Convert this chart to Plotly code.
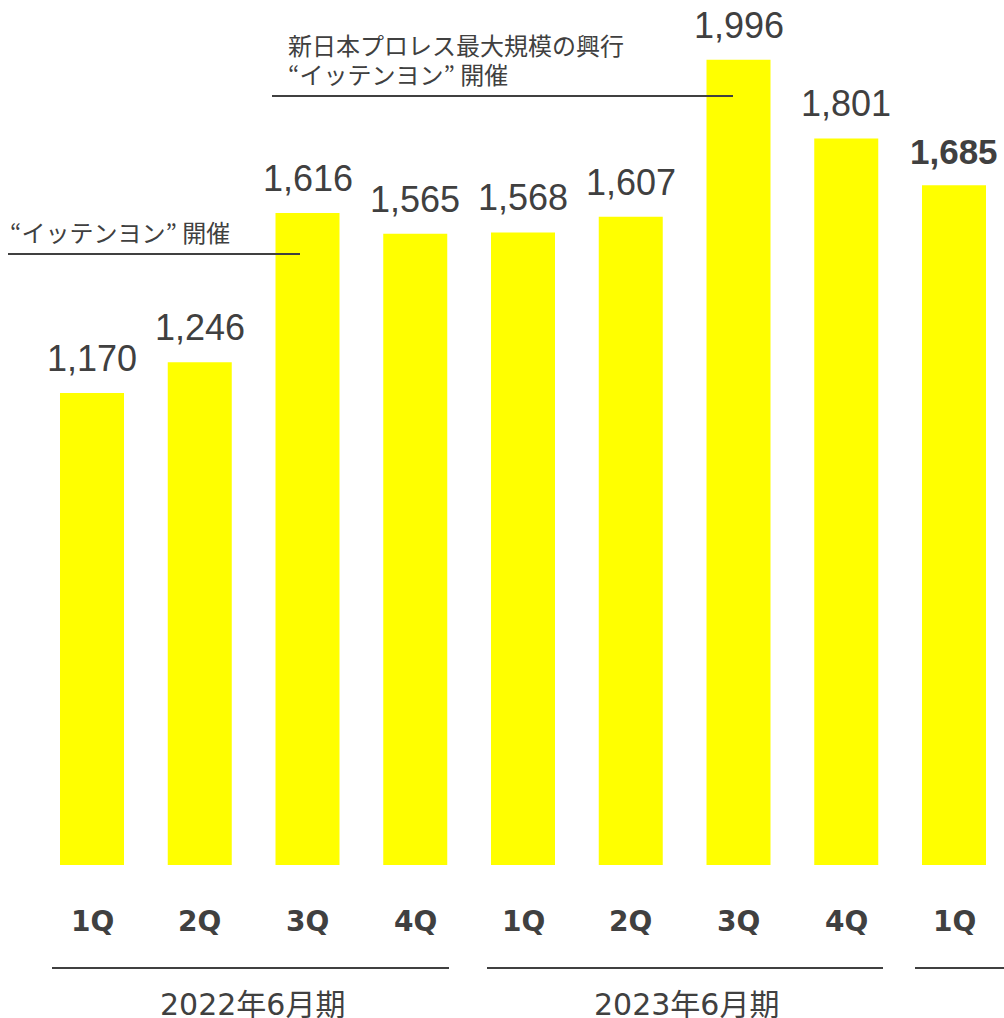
import plotly.graph_objects as go

W, H = 1004, 1018

quarters = ["1Q", "2Q", "3Q", "4Q", "1Q", "2Q", "3Q", "4Q", "1Q"]
values = [1170, 1246, 1616, 1565, 1568, 1607, 1996, 1801, 1685]
fiscal_years = ["2022年6月期", "2023年6月期"]
note_short = "“イッテンヨン” 開催"
note_long_1 = "新日本プロレス最大規模の興行"
note_long_2 = "“イッテンヨン” 開催"

TEXT = "#404040"
BAR = "#FFFF00"

x_idx = list(range(len(values)))

# pixel geometry helpers
x0_px, step_px = 92.0, 107.75
r0 = -x0_px / step_px
r1 = r0 + W / step_px
base_px, scale = 865.0, 0.4034
y_lo = -(H - base_px) / scale
y_hi = base_px / scale


def py(px):
    return 1 - px / H


def pxx(px):
    return px / W


fig = go.Figure()
fig.add_trace(go.Bar(
    x=x_idx, y=values, width=64 / step_px,
    marker=dict(color=BAR, line=dict(width=0)),
    hoverinfo="skip",
))

ann = []
for i, v in enumerate(values):
    last = i == len(values) - 1
    txt = f"{v:,}"
    ann.append(dict(
        x=i, y=v, xref="x", yref="y", text=f"<b>{txt}</b>" if last else txt,
        showarrow=False, yanchor="bottom", yshift=12,
        font=dict(family="Liberation Sans, Arial", size=36 if not last else 35, color=TEXT),
    ))
    ann.append(dict(
        x=i, y=py(921), xref="x", yref="paper", text=f"<b>{quarters[i]}</b>",
        showarrow=False, yanchor="middle",
        font=dict(family="DejaVu Sans", size=28, color=TEXT),
    ))

# fiscal year labels
fy_font = dict(family="DejaVu Sans, Noto Sans CJK JP", size=30, color=TEXT)
ann.append(dict(x=1.485, y=py(1004), xref="x", yref="paper", text=fiscal_years[0],
                showarrow=False, yanchor="middle", font=fy_font))
ann.append(dict(x=5.513, y=py(1004), xref="x", yref="paper", text=fiscal_years[1],
                showarrow=False, yanchor="middle", font=fy_font))

# notes
note_font = dict(family="Noto Sans CJK JP", size=24, color=TEXT)
ann.append(dict(x=pxx(8), y=py(231), xref="paper", yref="paper", text=note_short,
                showarrow=False, xanchor="left", yanchor="middle", font=note_font))
ann.append(dict(x=pxx(286), y=py(44), xref="paper", yref="paper", text=note_long_1,
                showarrow=False, xanchor="left", yanchor="middle", font=note_font))
ann.append(dict(x=pxx(286), y=py(73), xref="paper", yref="paper", text=note_long_2,
                showarrow=False, xanchor="left", yanchor="middle", font=note_font))

line = dict(color=TEXT, width=2)
shapes = [
    dict(type="line", xref="paper", yref="paper", x0=pxx(8), x1=pxx(300), y0=py(254), y1=py(254), line=line),
    dict(type="line", xref="paper", yref="paper", x0=pxx(272), x1=pxx(733), y0=py(96), y1=py(96), line=line),
    dict(type="line", xref="paper", yref="paper", x0=pxx(52), x1=pxx(449), y0=py(968), y1=py(968), line=line),
    dict(type="line", xref="paper", yref="paper", x0=pxx(487), x1=pxx(883), y0=py(968), y1=py(968), line=line),
    dict(type="line", xref="paper", yref="paper", x0=pxx(915), x1=pxx(1004), y0=py(968), y1=py(968), line=line),
]

fig.update_layout(
    width=W, height=H,
    margin=dict(l=0, r=0, t=0, b=0),
    paper_bgcolor="white", plot_bgcolor="white",
    showlegend=False,
    xaxis=dict(range=[r0, r1], visible=False, fixedrange=True),
    yaxis=dict(range=[y_lo, y_hi], visible=False, fixedrange=True),
    annotations=ann, shapes=shapes,
)

fig.write_html(
    "out.html",
    config={"displayModeBar": False},
    post_script="document.body.style.margin='0px';document.body.style.overflow='hidden';",
)
